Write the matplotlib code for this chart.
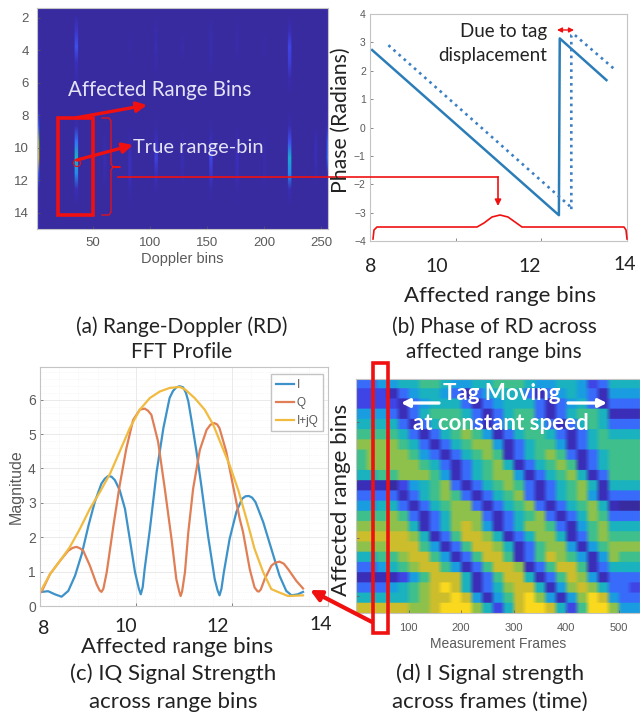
import numpy as np
import matplotlib
matplotlib.use('Agg')
import matplotlib.pyplot as plt
from matplotlib.colors import LinearSegmentedColormap
from matplotlib.patches import Rectangle, Circle

W, H = 640, 716

# (a) range-doppler stripes, one row per range bin
stripe_bins = [1, 35, 60, 82, 105, 128, 153, 176, 200, 222, 245, 256]
stripe_rows = [
    [.00, .00, .00, .00, .00, .00, .00, .00, .00, .00, .00, .02],
    [.03, .15, .00, .00, .04, .00, .05, .03, .00, .10, .00, .00],
    [.10, .25, .00, .02, .08, .04, .08, .05, .03, .22, .00, .00],
    [.05, .12, .00, .00, .04, .00, .04, .00, .00, .18, .00, .00],
    [.02, .05, .00, .00, .00, .00, .00, .00, .00, .06, .00, .00],
    [.02, .00, .00, .00, .00, .00, .00, .00, .00, .00, .00, .00],
    [.10, .00, .00, .00, .00, .00, .00, .00, .00, .00, .00, .02],
    [.30, .05, .00, .00, .02, .00, .02, .00, .00, .06, .00, .10],
    [.80, .35, .03, .04, .12, .03, .10, .05, .02, .25, .08, .30],
    [.90, .55, .08, .12, .20, .08, .22, .12, .05, .50, .10, .35],
    [.30, .40, .05, .12, .12, .05, .15, .10, .04, .40, .04, .10],
    [.05, .10, .00, .05, .03, .00, .04, .02, .00, .08, .00, .02],
    [.05, .00, .00, .00, .00, .00, .00, .00, .00, .00, .00, .00],
    [.12, .00, .00, .00, .00, .00, .00, .00, .00, .00, .00, .03],
]
doppler_ticks = [50, 100, 150, 200, 250]
range_ticks = [2, 4, 6, 8, 10, 12, 14]

# (b) phase lines
solid_x = [8.05, 12.41, 12.43, 13.52]
solid_y = [2.73, -3.09, 3.14, 1.67]
dotted_x = [8.43, 12.65, 12.70, 12.70, 12.75, 13.75]
dotted_y = [2.90, -2.75, -2.90, 3.25, 3.30, 2.00]
phase_ticks = [-4, -3, -2, -1, 0, 1, 2, 3, 4]

# (c) IQ curves
i_x = [8.03, 8.17, 8.31, 8.45, 8.59, 8.73, 8.87, 9.01, 9.14, 9.28, 9.35, 9.42, 9.49, 9.56, 9.66, 9.77, 9.87, 9.98,
       10.06, 10.10, 10.14, 10.18, 10.29, 10.43, 10.57, 10.70, 10.77, 10.84, 10.91, 10.98, 11.04, 11.09, 11.16,
       11.26, 11.36, 11.50, 11.64, 11.70, 11.74, 11.78, 11.83, 11.95, 12.09, 12.21, 12.28, 12.35, 12.42, 12.49,
       12.65, 12.82, 12.99, 13.13, 13.24, 13.37, 13.48]
i_y = [0.41, 0.43, 0.34, 0.27, 0.44, 0.88, 1.51, 2.34, 3.02, 3.56, 3.70, 3.78, 3.76, 3.66, 3.37, 2.83, 1.95, 0.98,
       0.50, 0.34, 0.55, 1.07, 2.24, 3.90, 5.17, 6.05, 6.25, 6.36, 6.39, 6.36, 6.20, 5.95, 5.37,
       4.49, 3.51, 2.05, 0.78, 0.45, 0.31, 0.50, 0.98, 1.95, 2.73, 3.12, 3.19, 3.20, 3.15, 3.02,
       2.44, 1.66, 0.88, 0.44, 0.31, 0.34, 0.41]
q_x = [8.03, 8.21, 8.42, 8.59, 8.68, 8.76, 8.83, 8.90, 9.04, 9.18, 9.24, 9.28, 9.32, 9.39, 9.53, 9.66, 9.80, 9.94,
       10.08, 10.18, 10.25, 10.32, 10.46, 10.60, 10.74, 10.84, 10.90, 10.93, 10.96, 11.02, 11.09, 11.19, 11.33,
       11.47, 11.55, 11.63, 11.69, 11.74, 11.88, 12.02, 12.16, 12.23, 12.37, 12.47, 12.53, 12.56, 12.60, 12.68,
       12.82, 12.90, 12.99, 13.08, 13.17, 13.34, 13.48]
q_y = [0.41, 0.93, 1.32, 1.61, 1.69, 1.72, 1.68, 1.61, 1.17, 0.63, 0.46, 0.41, 0.50, 0.98, 2.34, 3.51, 4.59, 5.41,
       5.71, 5.74, 5.68, 5.56, 4.78, 3.41, 1.95, 0.78, 0.42, 0.29, 0.42, 0.98, 2.15, 3.41, 4.54,
       5.12, 5.27, 5.32, 5.28, 5.17, 4.49, 3.51, 2.54, 2.15, 1.07, 0.54, 0.43, 0.42, 0.48, 0.78,
       1.17, 1.26, 1.29, 1.23, 1.07, 0.73, 0.51]
iq_x = [8.03, 8.21, 8.42, 8.62, 8.83, 9.04, 9.25, 9.46, 9.66, 9.87, 10.08, 10.29, 10.50, 10.70, 10.91,
        11.02, 11.22, 11.43, 11.61, 11.78, 11.95, 12.13, 12.30, 12.47, 12.65, 12.82, 12.99, 13.17, 13.48]
iq_y = [0.47, 0.93, 1.32, 1.71, 2.24, 2.83, 3.32, 3.85, 4.49, 5.17, 5.71, 6.05, 6.24, 6.34, 6.37,
        6.30, 6.05, 5.71, 5.27, 4.68, 4.10, 3.37, 2.54, 1.66, 0.98, 0.49, 0.39, 0.29, 0.31]
mag_ticks = [0, 1, 2, 3, 4, 5, 6]

# (d) I signal, one string per range bin, one digit per 20 frames
signal_rows = [
    '334455665' '445566654' '455423555',
    '222134554' '313455531' '345431444',
    '222213455' '531345553' '134531333',
    '444313566' '653135663' '135665111',
    '555531356' '663135665' '313565333',
    '666653135' '676413566' '531356555',
    '777765313' '567741356' '641356666',
    '677776431' '356761356' '763135666',
    '677777653' '135675135' '676135666',
    '556677764' '135677413' '567513666',
    '111024567' '313567631' '356751555',
    '333313567' '631356731' '356741333',
    '445531356' '773135673' '135675100',
    '666763135' '777313567' '313576333',
    '777775135' '787413577' '631467555',
    '888887513' '688751357' '751367666',
    '777888641' '368875136' '774146777',
    '556678864' '136886136' '876414766',
    '334567886' '413688713' '688613555',
    '111124688' '851368851' '368741333',
    '333456789' '851357885' '147875332',
    '555556788' '984146897' '414798433',
    '888887789' '997525899' '852699744',
]
frame_ticks = [100, 200, 300, 400, 500]

parula = LinearSegmentedColormap.from_list('parula', [
    (0.22, 0.17, 0.63), (0.23, 0.18, 0.72), (0.25, 0.27, 0.90), (0.22, 0.42, 0.98), (0.10, 0.62, 0.88),
    (0.10, 0.70, 0.75), (0.25, 0.75, 0.55), (0.55, 0.76, 0.30), (0.80, 0.74, 0.18), (0.98, 0.85, 0.12)])

plt.rcParams['font.family'] = ['Liberation Sans', 'DejaVu Sans']
fig = plt.figure(figsize=(W / 100, H / 100), dpi=100)
GRAY = '#5a5a5a'
LINE = '#c4c4c4'
RED = '#f01010'


def px_axes(l, t, r, b):
    return fig.add_axes([l / W, 1 - b / H, (r - l) / W, (b - t) / H])


def soften(ax, size, pad=3):
    for s in ax.spines.values():
        s.set_color(LINE)
        s.set_linewidth(0.8)
    ax.tick_params(colors=GRAY, labelsize=size, length=2, width=0.5, direction='in', pad=pad)


# panel a
ax_a = px_axes(37, 8, 328, 229)
grid = np.zeros((14, 256))
for j, d in enumerate(stripe_bins):
    for k in range(14):
        grid[k, max(d - 2, 0):d + 1] = stripe_rows[k][j]
ax_a.imshow(grid, cmap=parula, vmin=0, vmax=1, aspect='auto', interpolation='bilinear',
            extent=(1, 256, 15, 1.4))
ax_a.set_xticks(doppler_ticks)
ax_a.set_yticks(range_ticks)
soften(ax_a, 9.5, pad=6)
ax_a.set_xlabel('Doppler bins', fontsize=10.5, color=GRAY, labelpad=2)

# panel b
ax_b = px_axes(370, 14, 627, 241)
ax_b.plot(solid_x, solid_y, color='#2b7db8', lw=1.8)
ax_b.plot(dotted_x, dotted_y, color='#3c7fc4', lw=1.9, ls=(0, (1, 1.6)))
ax_b.set_xlim(8, 14)
ax_b.set_ylim(-4, 4)
ax_b.set_yticks(phase_ticks)
ax_b.set_xticks([8, 10, 12, 14])
ax_b.set_xticklabels([])
soften(ax_b, 7.5)

# panel c
ax_c = px_axes(40, 367, 328, 606)
ax_c.plot(i_x, i_y, color='#3d93c9', lw=1.6, label='I')
ax_c.plot(q_x, q_y, color='#e07f55', lw=1.6, label='Q')
ax_c.plot(iq_x, iq_y, color='#f1bb40', lw=1.6, label='I+jQ')
ax_c.set_xlim(8, 14)
ax_c.set_ylim(0, 6.95)
ax_c.set_xticks([8, 10, 12, 14])
ax_c.set_xticklabels([])
ax_c.set_yticks(mag_ticks)
ax_c.set_xticks(np.arange(8, 14.1, 0.4), minor=True)
ax_c.set_yticks(np.arange(0, 7, 0.2), minor=True)
ax_c.grid(which='major', color='#e6e6e6', lw=0.6)
ax_c.grid(which='minor', color='#f0f0f0', lw=0.5, ls=':')
ax_c.tick_params(which='minor', length=0)
soften(ax_c, 10)
ax_c.set_ylabel('Magnitude', fontsize=11.5, color=GRAY, labelpad=3)
leg = ax_c.legend(loc='upper right', bbox_to_anchor=(0.983, 0.97), fontsize=8.5, borderaxespad=0,
                  handlelength=1.5, handletextpad=0.25, labelspacing=0.5, borderpad=0.4,
                  fancybox=False, framealpha=1, edgecolor=LINE)
for t in leg.get_texts():
    t.set_color(GRAY)

# panel d
ax_d = px_axes(356, 379, 640, 613)
signal = np.array([[int(c) for c in row] for row in signal_rows], dtype=float)
# repeat so the rows stay sharp and the bands keep a dark core
big = np.repeat(np.repeat(signal, 12, axis=0), 2, axis=1)
ax_d.imshow(big, cmap=parula, vmin=0, vmax=9, aspect='auto',
            interpolation='bilinear', extent=(0, 540, 23, 0))
ax_d.set_xticks(frame_ticks)
ax_d.set_yticks([4.2, 9.9, 15.6, 21.3])
ax_d.set_yticklabels([])
soften(ax_d, 8, pad=7)
ax_d.set_xlabel('Measurement Frames', fontsize=10, color=GRAY, labelpad=3)

# annotations on top, in picture pixels
top = fig.add_axes([0, 0, 1, 1], zorder=10)
top.set_xlim(0, W)
top.set_ylim(H, 0)
top.axis('off')
top.patch.set_alpha(0)

TXT = ['Lato', 'DejaVu Sans']


def label(x, y, s, size=12.5, color='#222222', **kw):
    top.text(x, y, s, fontsize=size, color=color, family=TXT, ha=kw.pop('ha', 'center'), va='center', **kw)


def arrow(x0, y0, x1, y1, color=RED, lw=2.4, ms=15, style='-|>'):
    top.annotate('', xy=(x1, y1), xytext=(x0, y0),
                 arrowprops=dict(arrowstyle=style, color=color, lw=lw, mutation_scale=ms,
                                 shrinkA=0, shrinkB=0))


top.add_patch(Rectangle((58, 118), 35, 97, fill=False, ec=RED, lw=2.6))
top.add_patch(Rectangle((372.5, 363), 15, 270, fill=False, ec=RED, lw=2.6))
top.add_patch(Circle((77, 163), 3.5, fill=False, ec=RED, lw=0.8))
arrow(75, 118, 147, 105)
arrow(77, 160, 133, 145)
arrow(372, 622, 310, 590, lw=3, ms=16)
# brace beside the box
top.plot([102, 109, 111, 111, 113, 120, 113, 111, 111, 109, 102],
         [118, 118, 121, 164, 167, 167, 167, 170, 212, 215, 215], color=RED, lw=0.9)
# line to panel b
top.plot([118, 498], [177, 177], color=RED, lw=1.2)
arrow(498, 177, 498, 206, lw=1.2, ms=9)
# curly bracket under panel b
top.plot([373, 374, 377, 477, 484, 492, 500, 508, 515, 522, 624, 626, 627],
         [239, 230, 227, 227, 223, 217, 215, 217, 222, 227, 227, 230, 239], color=RED, lw=1.2)
arrow(557, 30, 574, 30, lw=1.0, ms=7, style='<|-|>')
# white arrows
arrow(439, 403, 401, 403, color='white', lw=2.4, ms=12)
arrow(568, 403, 607, 403, color='white', lw=2.4, ms=12)

label(160, 90, 'Affected Range Bins', size=14.8, color='#e4e2f5')
label(198, 147, 'True range-bin', size=14.5, color='#e4e2f5')
label(502, 394, 'Tag Moving', size=16, color='white', weight='bold')
label(501, 423, 'at constant speed', size=16, color='white', weight='bold')
label(547, 32, 'Due to tag', size=13.5, ha='right')
label(547, 55, 'displacement', size=13.5, ha='right')
label(341, 120, 'Phase (Radians)', size=15.3, rotation=90)
label(341, 500, 'Affected range bins', size=16, rotation=90)

for x, y, s in [(371, 266, '8'), (437, 266, '10'), (530, 266, '12'), (625, 264, '14')]:
    label(x, y, s, size=14)
for x, y, s in [(44, 628, '8'), (126, 627, '10'), (218, 627, '12'), (321, 624, '14')]:
    label(x, y, s, size=14)

label(500, 296, 'Affected range bins', size=16)
label(182, 327, '(a) Range-Doppler (RD)', size=15)
label(182, 352, 'FFT Profile', size=15)
label(494, 327, '(b) Phase of RD across', size=15)
label(494, 352, 'affected range bins', size=15)
label(177, 647, 'Affected range bins', size=16)
label(173, 674, '(c) IQ Signal Strength', size=16)
label(173, 702, 'across range bins', size=16)
label(490, 674, '(d) I Signal strength', size=16)
label(490, 702, 'across frames (time)', size=16)

fig.savefig('out.png', dpi=100)
